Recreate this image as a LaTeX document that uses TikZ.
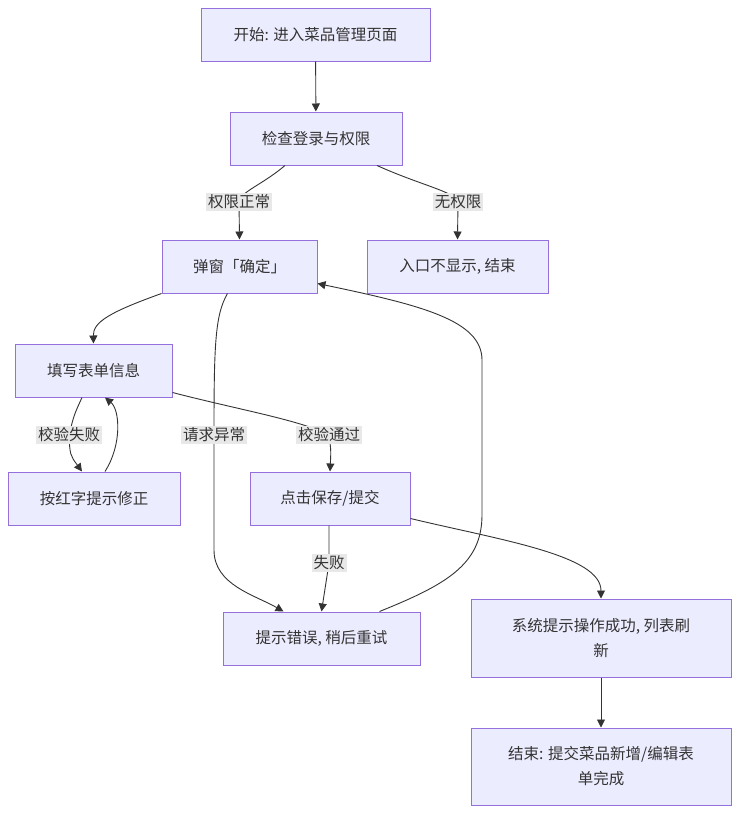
\documentclass[tikz,border=0pt]{standalone}
\usepackage{fontspec}
\setmainfont{Noto Sans CJK SC}
\usetikzlibrary{positioning,arrows.meta,calc}
\definecolor{boxfill}{HTML}{ECECFF}
\definecolor{boxline}{HTML}{9370DB}
\definecolor{edgegray}{HTML}{333333}
\definecolor{lblgray}{HTML}{E8E8E8}

\begin{document}
\begin{tikzpicture}[x=1pt, y=-1pt,
    box/.style={rectangle, draw=boxline, fill=boxfill, line width=1pt, minimum height=53pt,
        text=edgegray, align=center, font=\fontsize{15.5pt}{25pt}\selectfont},
    lbl/.style={fill=lblgray, inner sep=2pt, text=edgegray, font=\fontsize{15.5pt}{20pt}\selectfont}]

        \useasboundingbox (0,0) rectangle (739,814);

        \node[box, minimum width=229pt] (start) at (315.5,34.5) {开始: 进入菜品管理页面};
        \node[box, minimum width=172pt] (check) at (316,138.5) {检查登录与权限};
        \node[box, minimum width=155pt] (popup) at (239.5,266.5) {弹窗「确定」};
        \node[box, minimum width=181pt] (noperm) at (457.5,266.5) {入口不显示, 结束};
        \node[box, minimum width=157pt] (fill) at (93.5,370.5) {填写表单信息};
        \node[box, minimum width=172pt] (fix) at (94,498.5) {按红字提示修正};
        \node[box, minimum width=160pt] (save) at (330,498.5) {点击保存/提交};
        \node[box, minimum width=197pt] (error) at (321.5,638.5) {提示错误, 稍后重试};
        \node[box, minimum width=260pt, minimum height=78pt] (success) at (601,638) {系统提示操作成功, 列表刷\\新};
        \node[box, minimum width=260pt, minimum height=77pt] (end) at (601,766.5) {结束: 提交菜品新增/编辑表\\单完成};

        \coordinate (okpos) at (239,202);
        \coordinate (nopos) at (458,202);
        \coordinate (reqpos) at (214,435);
        \coordinate (badpos) at (69,435);
        \coordinate (passpos) at (329,435);
        \coordinate (failpos) at (329,563);

        \begin{scope}[
            every path/.style={draw=edgegray, line width=0.9pt},
            >={Triangle[length=8pt,width=8pt]}
        ]
            \draw[->] (start) -- (check);
            \draw[->] ([xshift=-31pt]check.south) .. controls (262,185) and (240,192) .. (okpos) -- (popup.north);
            \draw[->] ([xshift=61pt]check.south) .. controls (420,185) and (456,192) .. (nopos) -- (noperm.north);
            \draw[->] (popup.south west) .. controls (110,312) and (93,322) .. (fill.north);
            \draw[->] ([xshift=-12pt]popup.south) .. controls (215,315) and (214,345) .. (reqpos) -- (214,550)
                .. controls (214,585) and (255,595) .. ([xshift=-38pt]error.north);
            \draw[->] ([xshift=-11.5pt]fill.south) .. controls (74,415) .. (badpos) .. controls (70,455) .. ([xshift=-12pt]fix.north);
            \draw[->] ([xshift=11pt]fix.north) .. controls (122,445) and (120,410) .. ([xshift=11.5pt]fill.south);
            \draw[->] ([yshift=5pt]fill.south east) .. controls (240,410) and (300,420) .. (passpos) .. controls (331,450) .. (save.north);
            \draw[->] ([xshift=-1pt]save.south) -- (failpos) -- (error.north);
            \draw[->] ([yshift=7pt]save.south east) .. controls (500,540) and (601,555) .. (success.north);
            \draw[->] ([xshift=58pt]error.north) .. controls (445,585) and (482,565) .. (482,515) -- (482,360)
                .. controls (482,320) and (420,305) .. ([yshift=10pt]popup.south east);
            \draw[->] (success) -- (end);
        \end{scope}

        \node[lbl] (okl) at (okpos) {权限正常};
        \node[lbl] (nol) at (nopos) {无权限};
        \node[lbl] (reql) at (reqpos) {请求异常};
        \node[lbl] (badl) at (badpos) {校验失败};
        \node[lbl] (passl) at (passpos) {校验通过};
        \node[lbl] (faill) at (failpos) {失败};

    \end{tikzpicture}
\end{document}
